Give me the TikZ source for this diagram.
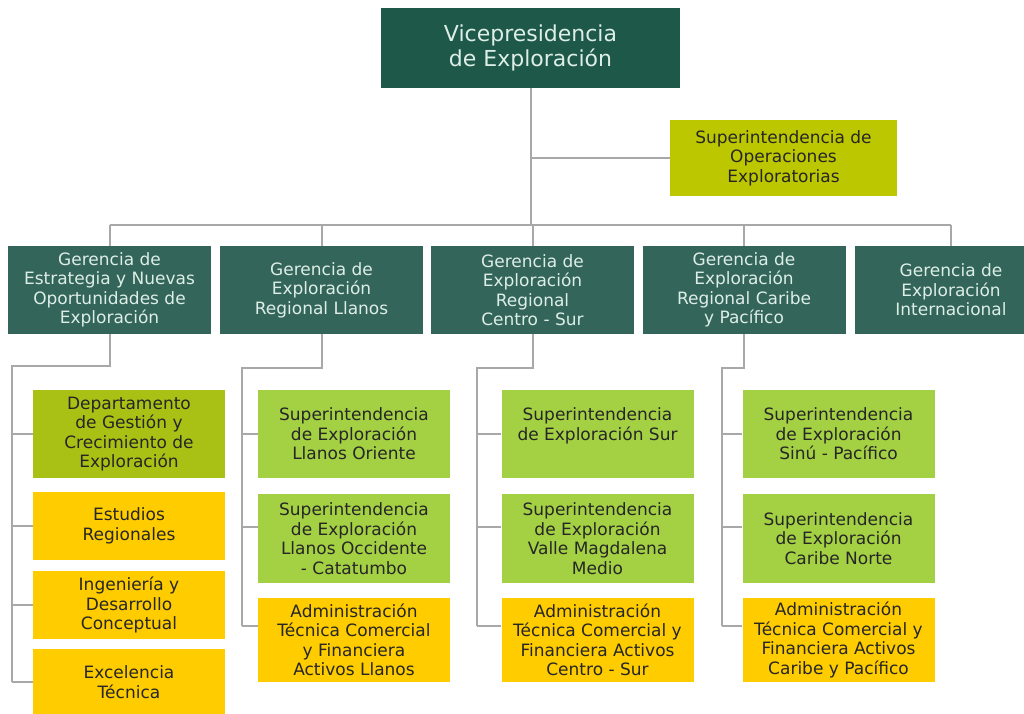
\documentclass[tikz,border=0pt]{standalone}
\usepackage{fontspec}
\setmainfont{DejaVu Sans}
\usetikzlibrary{positioning}
\usepackage{xcolor}
\definecolor{vpgreen}{HTML}{1E5849}
\definecolor{gergreen}{HTML}{33655A}
\definecolor{olive}{HTML}{BDC700}
\definecolor{deptgreen}{HTML}{A8C114}
\definecolor{supgreen}{HTML}{A4D043}
\definecolor{gold}{HTML}{FFCC00}
\definecolor{linegray}{HTML}{A8A8A8}
\definecolor{paletext}{HTML}{DDEEE6}
\def\colwidth{192pt}

\begin{document}
\begin{tikzpicture}[x=1pt,y=-1pt]
    \tikzstyle{link}=[draw=linegray, line width=2pt]
    \tikzstyle{box}=[rectangle, align=center, inner sep=0pt, text=black!85, font=\fontsize{17}{19.5}\selectfont]
    \tikzstyle{vp box}=[box, fill=vpgreen, text=paletext, minimum width=299pt, minimum height=80pt, font=\fontsize{22}{25}\selectfont];
    \tikzstyle{gerencia}=[box, fill=gergreen, text=paletext, minimum width=203pt, minimum height=88pt];
    \tikzstyle{dept}=[box, minimum width=\colwidth, fill=deptgreen];
    \tikzstyle{sup}=[box, minimum width=\colwidth, fill=supgreen];
    \tikzstyle{admin}=[box, minimum width=\colwidth, fill=gold];

    \fill[white] (0,0) rectangle (1024,713);
    \useasboundingbox (0,0) rectangle (1024,713);

    % Draw the top of the chart
    \node[vp box] (vp) at (530.5,48) {Vicepresidencia\\de Exploración};
    \node[box, fill=olive, minimum width=227pt, minimum height=76pt] (sop) at (783.5,158)
        {Superintendencia de\\Operaciones\\Exploratorias};

    % Draw the gerencias
    \node[gerencia] (g1) at (109.5,290) {Gerencia de\\Estrategia y Nuevas\\Oportunidades de\\Exploración};
    \node[gerencia] (g2) at (321.5,290) {Gerencia de\\Exploración\\Regional Llanos};
    \node[gerencia] (g3) at (532.5,290) {Gerencia de\\Exploración\\Regional\\Centro - Sur};
    \node[gerencia] (g4) at (744,290) {Gerencia de\\Exploración\\Regional Caribe\\y Pacífico};
    \node[gerencia, minimum width=192pt] (g5) at (951,290) {Gerencia de\\Exploración\\Internacional};

    % Column under the first gerencia
    \node[dept, minimum height=88pt] (c1-1) at (129,434) {Departamento\\de Gestión y\\Crecimiento de\\Exploración};
    \node[admin, minimum height=68pt] (c1-2) at (129,526) {Estudios\\Regionales};
    \node[admin, minimum height=68pt] (c1-3) at (129,605) {Ingeniería y\\Desarrollo\\Conceptual};
    \node[admin, minimum height=66pt] (c1-4) at (129,682) {Excelencia\\Técnica};

    % Columns under the regional gerencias
    \node[sup, minimum height=88pt] (c2-1) at (354,434) {Superintendencia\\de Exploración\\Llanos Oriente};
    \node[sup, minimum height=89pt] (c2-2) at (354,538.5) {Superintendencia\\de Exploración\\Llanos Occidente\\- Catatumbo};
    \node[admin, minimum height=84pt] (c2-3) at (354,640) {Administración\\Técnica Comercial\\y Financiera\\Activos Llanos};

    \node[sup, minimum height=88pt] (c3-1) at (597.5,434) {Superintendencia\\de Exploración Sur\\\phantom{x}};
    \node[sup, minimum height=89pt] (c3-2) at (597.5,538.5) {Superintendencia\\de Exploración\\Valle Magdalena\\Medio};
    \node[admin, minimum height=84pt] (c3-3) at (597.5,640) {Administración\\Técnica Comercial y\\Financiera Activos\\Centro - Sur};

    \node[sup, minimum height=88pt] (c4-1) at (838.5,434) {Superintendencia\\de Exploración\\Sinú - Pacífico};
    \node[sup, minimum height=89pt] (c4-2) at (838.5,538.5) {Superintendencia\\de Exploración\\Caribe Norte};
    \node[admin, minimum height=84pt] (c4-3) at (838.5,640) {Administración\\Técnica Comercial y\\Financiera Activos\\Caribe y Pacífico};

    % Connect the top box with the gerencias
    \coordinate (bus) at (530.5,225);
    \draw[link] (vp) -- (bus);
    \draw[link] (vp |- sop.west) -- (sop.west);
    \draw[link] (bus -| g1.north) -- (bus -| g5.north);
    \foreach \g in {1,...,5}
        \draw[link] (bus -| g\g.north) -- (g\g.north);

    % Connect every gerencia with its column
    \coordinate (t1) at (12,366);
    \coordinate (t2) at (242,368);
    \coordinate (t3) at (477,368);
    \coordinate (t4) at (722,368);

    \draw[link] (g1.south) |- (t1) -- (t1 |- c1-4.west);
    \foreach \k in {1,...,4}
        \draw[link] (t1 |- c1-\k.west) -- (c1-\k.west);

    \foreach \c in {2,3,4} {
        \draw[link] (g\c.south) |- (t\c) -- (t\c |- c\c-3.172);
        \foreach \k / \a in {1/180,2/173,3/172}
            \draw[link] (t\c |- c\c-\k.\a) -- (c\c-\k.\a);
    }
\end{tikzpicture}
\end{document}
